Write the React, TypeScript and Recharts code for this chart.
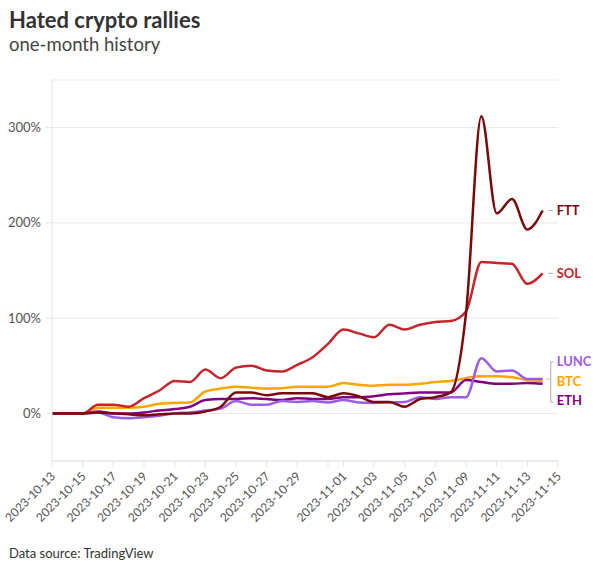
import React from 'react';
import { LineChart, Line, XAxis, YAxis, CartesianGrid } from 'recharts';

// one point per day, 2023-10-13 .. 2023-11-14, % change since the first day
const days = [
  '2023-10-13', '2023-10-14', '2023-10-15', '2023-10-16', '2023-10-17', '2023-10-18',
  '2023-10-19', '2023-10-20', '2023-10-21', '2023-10-22', '2023-10-23', '2023-10-24',
  '2023-10-25', '2023-10-26', '2023-10-27', '2023-10-28', '2023-10-29', '2023-10-30',
  '2023-10-31', '2023-11-01', '2023-11-02', '2023-11-03', '2023-11-04', '2023-11-05',
  '2023-11-06', '2023-11-07', '2023-11-08', '2023-11-09', '2023-11-10', '2023-11-11',
  '2023-11-12', '2023-11-13', '2023-11-14',
];

const ftt = [0, 0, 0, 1, 0, -1, -2, -1, 0, 0, 2, 7, 22, 22, 19, 21, 21, 21, 17, 21, 18, 12, 12, 7, 15, 17, 22, 105, 312, 210, 225, 193, 213];
const sol = [0, 0, 0, 9, 9, 7, 16, 24, 34, 33, 46, 37, 48, 50, 45, 44, 51, 59, 73, 88, 84, 80, 93, 88, 93, 96, 97, 107, 159, 158, 157, 136, 147];
const lunc = [0, 0, 0, 1, -4, -5, -4, -2.5, 0, 1, 3, 5, 13, 9, 9, 13, 12, 13, 11.5, 14, 11.5, 11, 11.5, 12, 17, 15, 17, 17, 58, 44, 45, 36, 36];
const btc = [0, 0, 0, 6, 6, 6, 7, 10, 11, 11.5, 23, 26, 28, 27, 26, 26.5, 28, 28, 28, 32, 30, 29, 30, 30, 31, 33, 34, 37, 39, 39, 38, 35, 34];
const eth = [0, 0, 0, 2, 0, 0, 1, 3, 4.5, 7, 14, 15, 15, 16, 15, 14, 16, 15, 15, 17, 17, 18, 20, 21, 22, 22, 22, 35, 33, 31, 31, 32, 31];

// tick positions in days from 2023-10-13 (10-31 gets a mark but no label)
const xTicks = [0, 2, 4, 6, 8, 10, 12, 14, 16, 18, 19, 21, 23, 25, 27, 29, 31, 33];
const yTicks = [0, 100, 200, 300];

const data = days.map((d, i) => ({
  day: i,
  FTT: ftt[i],
  SOL: sol[i],
  LUNC: lunc[i],
  BTC: btc[i],
  ETH: eth[i],
}));

const COLORS: Record<string, string> = {
  FTT: '#7a0a0a',
  SOL: '#c4262b',
  LUNC: '#9d5ce6',
  BTC: '#ffa500',
  ETH: '#800080',
};

const FONT = 'Lato, "Noto Sans", sans-serif';
const LAST = days.length - 1;

const dateLabel = (n: number) => {
  if (n === 18) return '';
  const d = new Date(Date.UTC(2023, 9, 13 + n));
  return d.toISOString().slice(0, 10);
};

const XTick = ({ x, y, payload }: any) => (
  <text
    x={x + 4}
    y={y + 8}
    transform={`rotate(-45, ${x + 4}, ${y + 8})`}
    textAnchor="end"
    fontSize={12}
    fill="#555"
    fontFamily={FONT}
  >
    {dateLabel(payload.value)}
  </text>
);

const makeLabel = (name: string, dy: number, dash: boolean, bracket?: boolean) => (props: any) => {
  const { x, y, index } = props;
  if (index !== LAST) return null;
  return (
    <g key={name}>
      {dash && <line x1={x + 6} x2={x + 10} y1={y} y2={y} stroke="#aaa" strokeWidth={1} />}
      {bracket && (
        <path
          d={`M ${x + 11} ${y - 19} H ${x + 8} V ${y + 21} H ${x + 11} M ${x + 4} ${y - 2} H ${x + 8}`}
          fill="none"
          stroke="#bbb"
          strokeWidth={1.2}
        />
      )}
      <text
        x={x + 14}
        y={y + dy}
        dy="0.35em"
        fontSize={13}
        fontWeight={700}
        fill={COLORS[name]}
        fontFamily={FONT}
      >
        {name}
      </text>
    </g>
  );
};

export default function App() {
  return (
    <div style={{ position: 'absolute', left: 0, top: 0, width: 599, height: 568, background: '#fff', fontFamily: FONT }}>
      <div style={{ position: 'absolute', left: 9, top: 6, fontSize: 22, fontWeight: 700, color: '#333' }}>
        Hated crypto rallies
      </div>
      <div style={{ position: 'absolute', left: 9, top: 33, fontSize: 18.5, color: '#444' }}>
        one-month history
      </div>
      <div style={{ position: 'absolute', left: 0, top: 0 }}>
        <LineChart width={599} height={568} data={data} margin={{ top: 80, right: 41, left: 8, bottom: 37 }}>
          <CartesianGrid horizontal vertical={false} stroke="#e8e8e8" />
          <XAxis
            dataKey="day"
            type="number"
            domain={[0, 33]}
            ticks={xTicks}
            tick={<XTick />}
            interval={0}
            height={70}
            stroke="#e3e3e3"
            tickSize={6}
          />
          <YAxis
            domain={[-50, 350]}
            ticks={yTicks}
            width={44}
            tickFormatter={(v: number) => `${v}%`}
            tick={{ fontSize: 13, fill: '#555', fontFamily: FONT }}
            tickMargin={5}
            tickSize={6}
            stroke="#e3e3e3"
          />
          <Line dataKey="BTC" type="monotone" stroke={COLORS.BTC} strokeWidth={2.5} dot={false} isAnimationActive={false} label={makeLabel('BTC', 0, false, true)} />
          <Line dataKey="ETH" type="monotone" stroke={COLORS.ETH} strokeWidth={2.5} dot={false} isAnimationActive={false} label={makeLabel('ETH', 17, false)} />
          <Line dataKey="LUNC" type="monotone" stroke={COLORS.LUNC} strokeWidth={2.5} dot={false} isAnimationActive={false} label={makeLabel('LUNC', -18, false)} />
          <Line dataKey="SOL" type="monotone" stroke={COLORS.SOL} strokeWidth={2.5} dot={false} isAnimationActive={false} label={makeLabel('SOL', 0, true)} />
          <Line dataKey="FTT" type="monotone" stroke={COLORS.FTT} strokeWidth={2.5} dot={false} isAnimationActive={false} label={makeLabel('FTT', 0, true)} />
        </LineChart>
      </div>
      <div style={{ position: 'absolute', left: 9, top: 545, fontSize: 13, color: '#333' }}>
        Data source: TradingView
      </div>
    </div>
  );
}
